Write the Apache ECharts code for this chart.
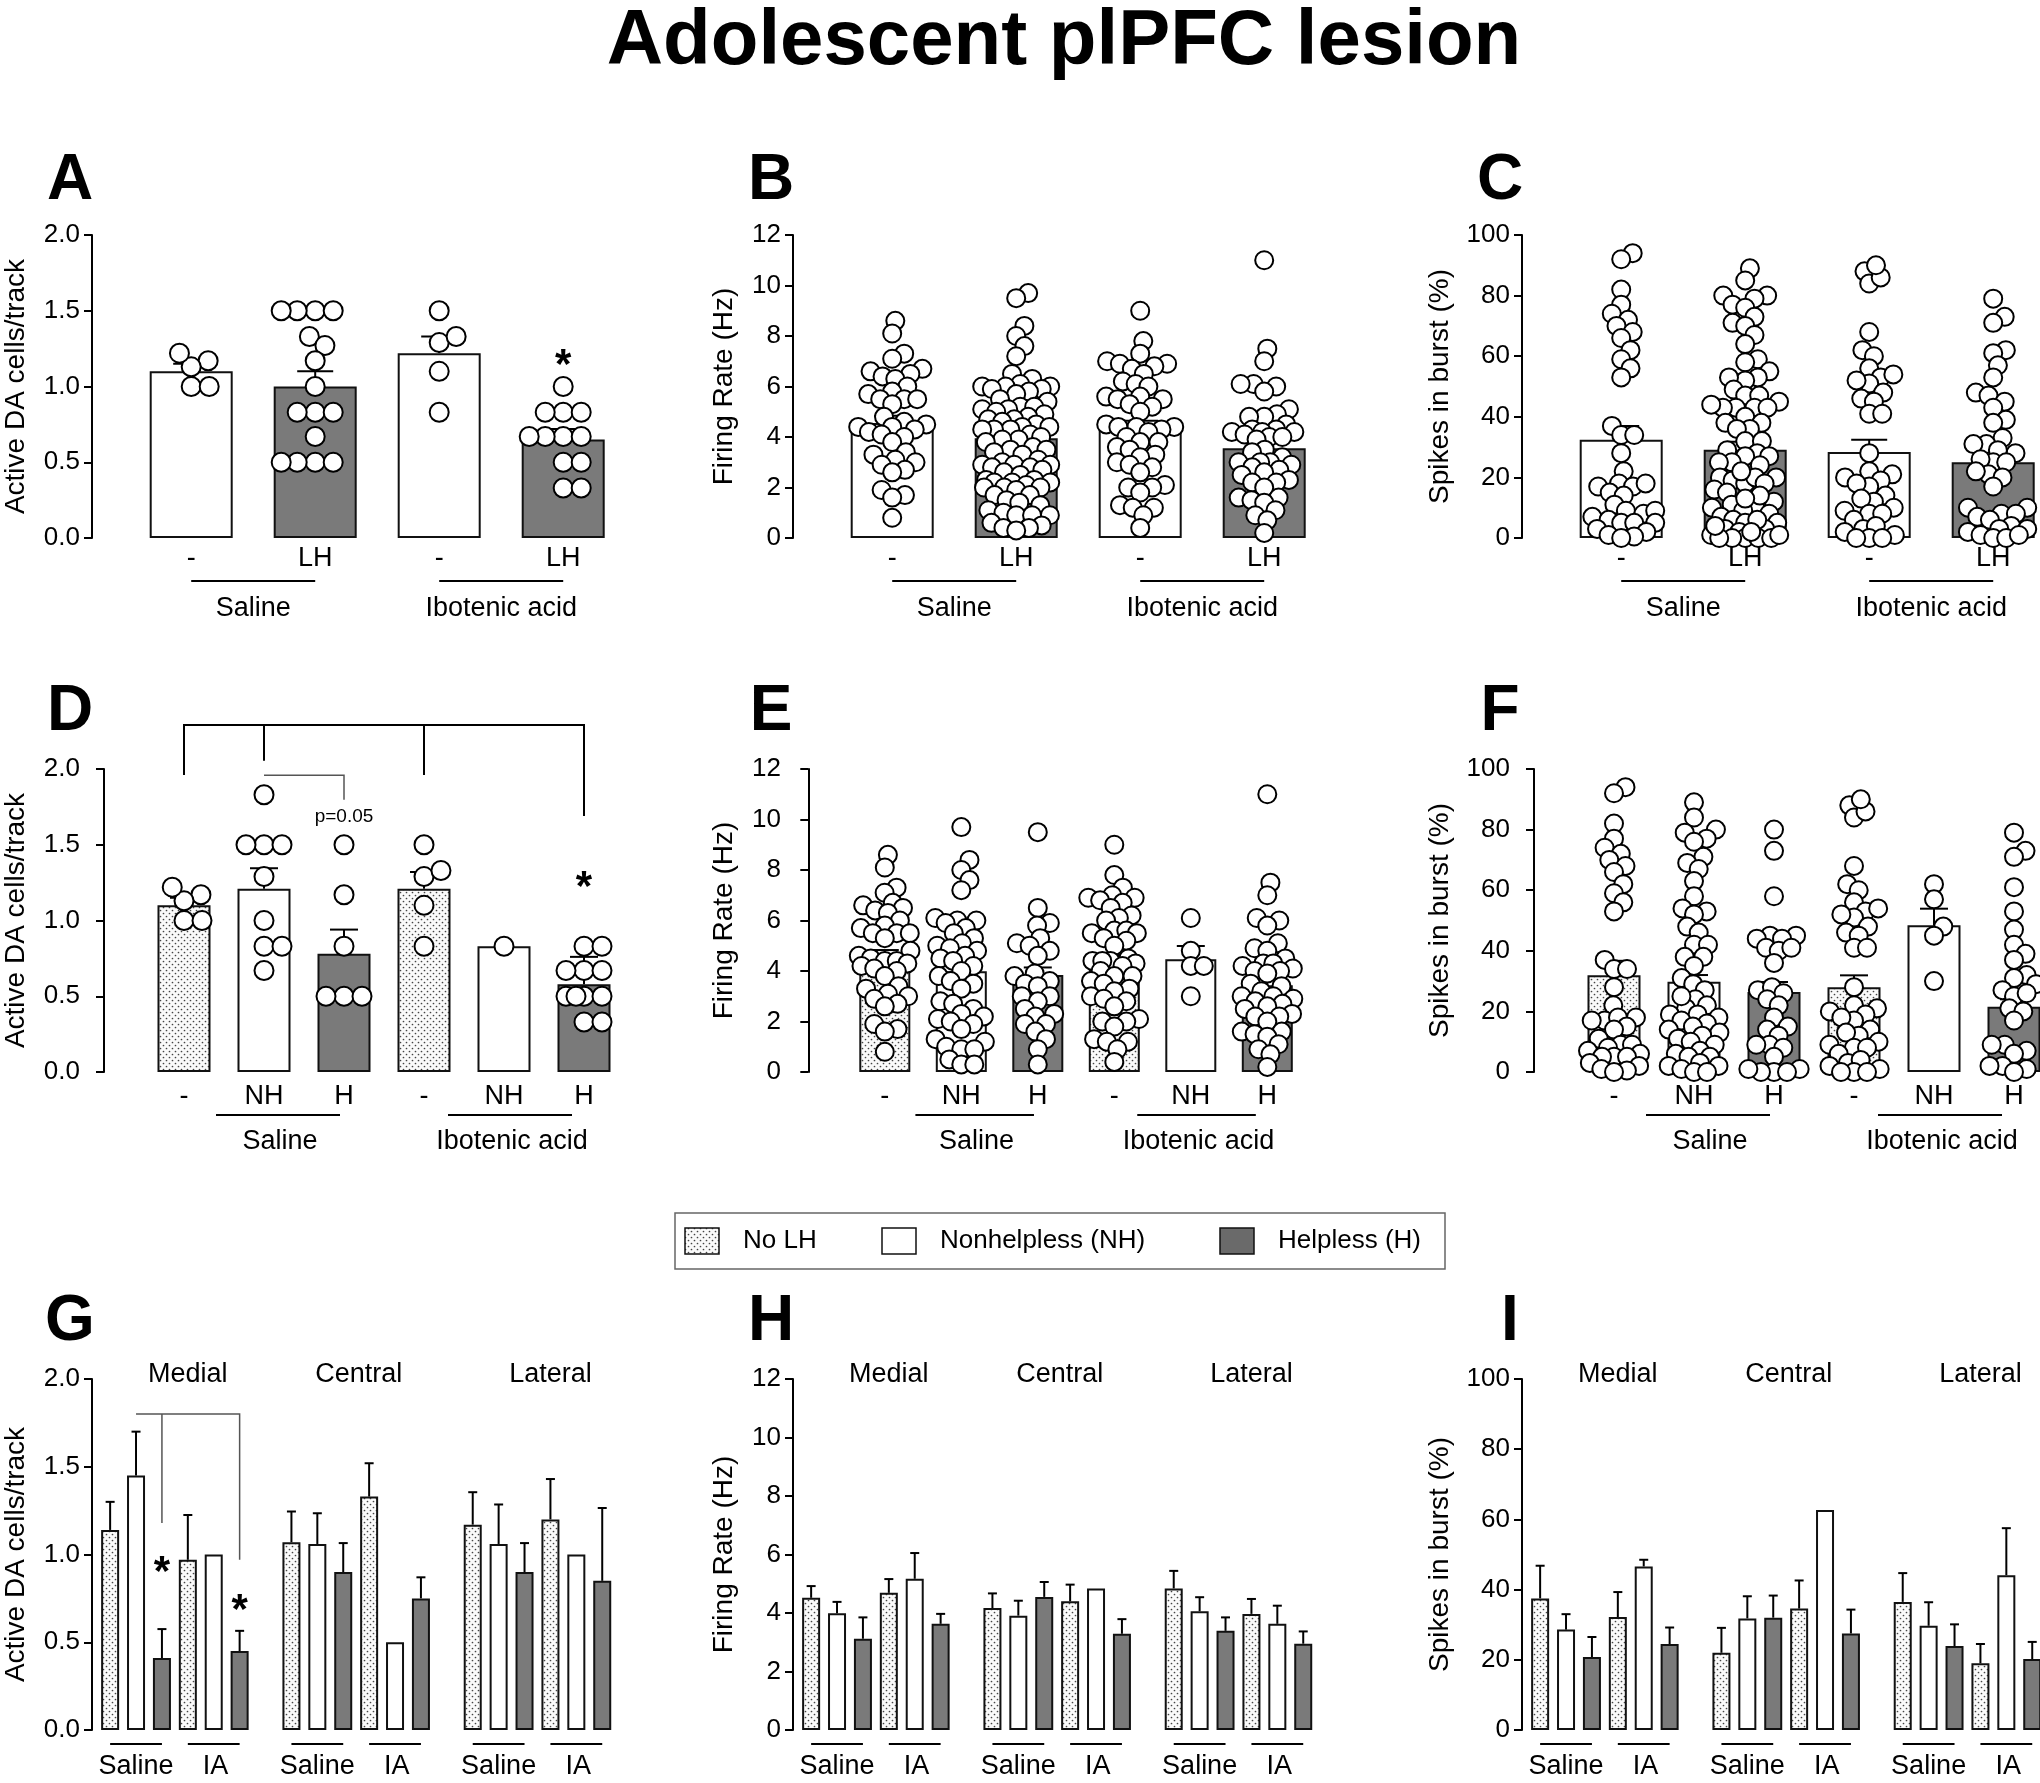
<!DOCTYPE html>
<html>
<head>
<meta charset="utf-8">
<script src="https://cdn.jsdelivr.net/npm/echarts@6/dist/echarts.min.js"></script>
<style>
html, body { margin: 0; padding: 0; background: #fff; }
#chart { width: 2040px; height: 1783px; }
</style>
</head>
<body>
<div id="chart"></div>
<script>
var FONT = '"Liberation Sans", Arial, sans-serif';

// labels
var figTitle = 'Adolescent plPFC lesion';
var letters = ['A', 'B', 'C', 'D', 'E', 'F', 'G', 'H', 'I'];
var yNames = ['Active DA cells/track', 'Firing Rate (Hz)', 'Spikes in burst (%)'];
var rowOneTicks = ['-', 'LH', '-', 'LH'];
var rowTwoTicks = ['-', 'NH', 'H', '-', 'NH', 'H'];
var treatments = ['Saline', 'Ibotenic acid'];
var treatShort = ['Saline', 'IA'];
var regions = ['Medial', 'Central', 'Lateral'];
var legendNames = ['No LH', 'Nonhelpless (NH)', 'Helpless (H)'];
var yMax = [2, 12, 100];
var yStep = [0.5, 2, 20];

// ---- row 1 : bar means and upper end of SEM
var aMeans = [1.10, 1.00, 1.22, 0.65];
var aTops = [1.15, 1.10, 1.33, 0.72];
var bMeans = [4.55, 3.95, 4.35, 3.55];
var bTops = [4.84, 4.15, 4.64, 3.89];
var cMeans = [32.4, 29.1, 28.4, 25.0];
var cTops = [37.0, 31.8, 32.4, 28.4];

// ---- row 2
var dMeans = [1.10, 1.21, 0.78, 1.21, 0.83, 0.58];
var dTops = [1.15, 1.345, 0.94, 1.32, null, 0.76];
var eMeans = [4.52, 3.99, 3.84, 4.33, 4.47, 3.44];
var eTops = [4.83, 4.30, 4.14, 4.63, 4.99, 3.72];
var fMeans = [31.9, 29.8, 26.4, 28.0, 48.4, 21.5];
var fTops = [36.7, 32.0, 29.7, 31.9, 53.9, 24.0];

// ---- row 3 (order: Saline noLH, NH, H, IA noLH, NH, H)
var gMedial = [1.14, 1.45, 0.41, 0.97, 1.00, 0.45];
var gMedialTop = [1.30, 1.70, 0.575, 1.225, null, 0.565];
var gCentral = [1.07, 1.06, 0.90, 1.33, 0.50, 0.75];
var gCentralTop = [1.245, 1.235, 1.065, 1.52, null, 0.87];
var gLateral = [1.17, 1.06, 0.90, 1.20, 1.00, 0.85];
var gLateralTop = [1.355, 1.285, 1.065, 1.43, null, 1.265];
var hMedial = [4.52, 3.99, 3.12, 4.69, 5.17, 3.63];
var hMedialTop = [4.92, 4.38, 3.85, 5.16, 6.05, 3.97];
var hCentral = [4.17, 3.91, 4.55, 4.40, 4.84, 3.29];
var hCentralTop = [4.67, 4.42, 5.06, 4.97, null, 3.79];
var hLateral = [4.84, 4.06, 3.39, 3.97, 3.63, 2.95];
var hLateralTop = [5.44, 4.54, 3.85, 4.48, 4.25, 3.37];
var iMedial = [37.5, 28.6, 20.8, 32.2, 46.6, 24.5];
var iMedialTop = [46.8, 33.0, 26.5, 39.3, 48.5, 29.2];
var iCentral = [22.0, 31.8, 32.0, 34.6, 62.7, 27.5];
var iCentralTop = [29.1, 38.1, 38.3, 42.6, null, 34.3];
var iLateral = [36.5, 29.7, 23.9, 19.0, 44.1, 20.2];
var iLateralTop = [44.7, 36.4, 30.1, 24.5, 57.5, 25.1];

// ---- individual cells, cells/track
var aSalNo = [1.17, 1.13, 1.22, 1.0, 1.0];
var aSalLH = [1.5, 1.5, 1.5, 1.5, 1.33, 1.27, 1.17, 1.0, 0.83, 0.83, 0.83, 0.67, 0.5, 0.5, 0.5, 0.5];
var aIaNo = [1.5, 1.29, 1.33, 1.1, 0.83];
var aIaLH = [1.0, 0.83, 0.83, 0.83, 0.67, 0.67, 0.67, 0.67, 0.5, 0.5, 0.33, 0.33];
var dSalNH = [1.83, 1.5, 1.5, 1.5, 1.29, 1.0, 0.83, 0.83, 0.67];
var dSalH = [1.5, 1.17, 0.83, 0.5, 0.5, 0.5];
var dIaNH = [0.83];
var dIaH = [0.83, 0.83, 0.67, 0.67, 0.67, 0.5, 0.5, 0.5, 0.5, 0.33, 0.33];

// ---- firing rate (Hz)
var bSalNo = [8.6, 8.1, 7.3, 7.1, 6.7, 6.5, 6.6, 6.4, 6.3, 6.0, 5.8, 5.7, 5.5, 5.5, 5.5, 5.3, 4.8, 4.6, 4.5, 4.4, 4.4, 4.3, 4.2, 4.1, 4.0, 3.8, 3.4, 3.3, 3.1, 2.9, 3.0, 2.7, 2.6, 1.9, 1.7, 1.6, 0.8];
var bSalLH = [9.7, 9.5, 8.4, 8.0, 7.6, 7.2, 6.5, 6.3, 6.1, 6.0, 6.0, 6.0, 5.9, 5.9, 5.8, 5.7, 5.5, 5.4, 5.2, 5.2, 5.1, 5.1, 5.0, 4.9, 4.8, 4.7, 4.7, 4.6, 4.5, 4.4, 4.4, 4.3, 4.3, 4.3, 4.1, 4.0, 3.9, 3.9, 3.8, 3.6, 3.5, 3.5, 3.4, 3.3, 3.1, 3.0, 2.9, 2.9, 2.9, 2.8, 2.8, 2.7, 2.6, 2.5, 2.3, 2.3, 2.2, 2.2, 2.2, 2.1, 2.0, 2.0, 2.0, 1.9, 1.7, 1.7, 1.5, 1.4, 1.3, 1.1, 1.0, 0.9, 0.9, 0.9, 0.6, 0.5, 0.4, 0.4, 0.3];
var bIaNo = [9.0, 7.8, 7.3, 7.0, 6.9, 6.9, 6.8, 6.7, 6.5, 6.2, 6.1, 6.0, 5.6, 5.6, 5.5, 5.5, 5.3, 5.2, 5.0, 4.5, 4.4, 4.4, 4.4, 4.3, 4.2, 4.0, 3.8, 3.8, 3.6, 3.5, 3.3, 3.2, 3.0, 2.9, 2.8, 2.6, 2.1, 2.0, 2.0, 1.8, 1.3, 1.2, 1.2, 0.9, 0.4];
var bIaLH = [11.0, 7.5, 7.0, 6.1, 6.1, 6.0, 5.8, 5.1, 4.9, 4.8, 4.8, 4.5, 4.3, 4.3, 4.2, 4.2, 4.2, 4.1, 4.0, 4.0, 3.9, 3.5, 3.4, 3.2, 3.0, 3.0, 3.0, 2.9, 2.8, 2.7, 2.6, 2.5, 2.3, 2.2, 2.2, 2.0, 1.6, 1.6, 1.5, 1.4, 1.1, 0.9, 0.7, 0.2];
var eSalNH = [9.7, 8.4, 8.0, 7.6, 7.2, 6.1, 6.0, 6.0, 5.9, 5.7, 5.5, 5.3, 5.1, 5.0, 4.9, 4.8, 4.6, 4.5, 4.4, 4.2, 4.0, 3.8, 3.6, 3.5, 3.3, 2.8, 2.7, 2.5, 2.3, 2.2, 2.1, 2.0, 1.9, 1.7, 1.3, 1.2, 1.0, 0.9, 0.9, 0.5, 0.3, 0.3];
var eSalH = [9.5, 6.5, 5.9, 5.8, 5.3, 5.1, 5.0, 4.8, 4.6, 3.9, 3.8, 3.6, 3.5, 3.4, 3.0, 3.0, 2.8, 2.5, 2.3, 2.2, 1.9, 1.9, 1.6, 1.3, 0.9, 0.3];
var eIaNH = [6.1, 4.8, 4.2, 4.2, 3.0];
var eIaH = [11.0, 7.5, 7.0, 6.1, 6.0, 5.8, 5.1, 4.9, 4.8, 4.5, 4.3, 4.3, 4.2, 4.1, 4.0, 4.0, 3.9, 3.5, 3.4, 3.2, 3.0, 3.0, 2.9, 2.8, 2.7, 2.6, 2.5, 2.3, 2.2, 2.2, 2.0, 1.6, 1.6, 1.5, 1.4, 1.1, 0.9, 0.7, 0.2];

// ---- spikes in burst (%)
var cSalNo = [94, 92, 82, 77, 74, 72, 70, 68, 66, 62, 59, 56, 53, 37, 34, 34, 28, 22, 18, 17, 18, 17, 15, 14, 11, 9, 8, 9, 7, 6, 5, 5, 5, 3, 2, 1, 0.5, 0];
var cSalLH = [89, 85, 80, 80, 79, 77, 76, 73, 71, 70, 67, 64, 59, 58, 55, 53, 52, 53, 49, 47, 47, 45, 43, 43, 43, 43, 44, 40, 38, 38, 36, 36, 32, 32, 28, 29, 27, 27, 25, 24, 25, 20, 20, 19, 18, 20, 18, 16, 15, 12, 11, 10, 10, 9, 8, 7, 6, 5, 5, 3, 2, 3, 1, 0, 0, 0, 0, 0, 22, 14, 13, 6, 4, 2, 1];
var cIaNo = [88, 84, 86, 90, 68, 62, 60, 56, 53, 54, 51, 52, 48, 46, 45, 41, 41, 28, 22, 21, 20, 19, 17, 18, 14, 12, 13, 10, 9, 8, 8, 6, 3, 4, 2, 1, 0, 0, 0];
var cIaLH = [79, 73, 71, 62, 61, 57, 53, 48, 47, 45, 43, 39, 38, 33, 31, 31, 28, 29, 25, 25, 26, 21, 22, 20, 17, 10, 10, 7, 8, 8, 6, 4, 3, 3, 2, 1, 0, 0, 1];
var fSalNH = [89, 84, 80, 77, 79, 76, 71, 69, 67, 63, 58, 54, 53, 52, 48, 46, 42, 42, 38, 38, 35, 31, 29, 27, 24, 22, 21, 25, 19, 19, 18, 17, 16, 15, 14, 13, 12, 11, 10, 9, 7, 6, 5, 5, 3, 2, 2, 1, 0, 0];
var fSalH = [80, 73, 58, 45, 45, 44, 44, 41, 40, 41, 36, 27, 28, 26, 24, 22, 18, 14, 15, 12, 9, 9, 8, 5, 1, 0, 0, 0, 1];
var fIaNH = [62, 57, 48, 45, 30];
var fIaH = [79, 73, 71, 61, 53, 47, 42, 39, 37, 32, 31, 29, 27, 25, 26, 21, 20, 17, 9, 9, 7, 6, 3, 2, 2, 1, 0];

// ---- layout
var colX = [92, 793, 1522];
var nameGap = [62, 55, 68];
var swarmGap = [18, 13, 13];
var rows = [
  { top: 235, bottom: 538, xMin: 0.2, xMax: 4.35, pxX: 124, barW: 83, cap: 18, spread: 34 },
  { top: 769, bottom: 1072, xMin: -0.15, xMax: 6.3, pxX: 80, barW: 53, cap: 14, spread: 26 },
  { top: 1379, bottom: 1730, xMin: 0.3, xMax: 20.3, pxX: 25.9, barW: 18, cap: 4.5 }
];
var GRAY = '#7a7a7a';

// dotted fill for the "No LH" bars
var dotCanvas = document.createElement('canvas');
dotCanvas.width = 6; dotCanvas.height = 6;
var dctx = dotCanvas.getContext('2d');
dctx.fillStyle = '#fafafa'; dctx.fillRect(0, 0, 6, 6);
dctx.fillStyle = '#444';
dctx.beginPath(); dctx.arc(1.5, 1.5, 0.85, 0, Math.PI * 2); dctx.fill();
dctx.beginPath(); dctx.arc(4.5, 4.5, 0.85, 0, Math.PI * 2); dctx.fill();
var DOTS = { image: dotCanvas, repeat: 'repeat' };

function fillOf(kind) {
  if (kind == 'dot') return DOTS;
  if (kind == 'gray') return GRAY;
  return '#fff';
}

// simple beeswarm: offsets in px, converted back to axis units
function swarm(values, xc, pxX, pxY, diam, spread) {
  var pts = values.map(function (v) { return { v: v, y: v * pxY, x: 0 }; });
  var order = pts.slice().sort(function (a, b) { return a.y - b.y; });
  var placed = [];
  order.forEach(function (p) {
    var cands = [0];
    placed.forEach(function (q) {
      var dy = p.y - q.y;
      if (Math.abs(dy) < diam) {
        var dx = Math.sqrt(diam * diam - dy * dy);
        cands.push(q.x + dx, q.x - dx);
      }
    });
    cands.sort(function (a, b) { return Math.abs(a) - Math.abs(b); });
    var best = null;
    for (var i = 0; i < cands.length; i++) {
      var c = cands[i];
      if (Math.abs(c) > spread) continue;
      var ok = placed.every(function (q) {
        var dx = c - q.x, dy = p.y - q.y;
        return dx * dx + dy * dy >= diam * diam - 0.5;
      });
      if (ok) { best = c; break; }
    }
    if (best === null) {
      var bestD = -1;
      for (var s = -spread; s <= spread; s += 2) {
        var md = 1e9;
        placed.forEach(function (q) {
          var dx = s - q.x, dy = p.y - q.y;
          md = Math.min(md, dx * dx + dy * dy);
        });
        if (md > bestD + 0.01 || (Math.abs(md - bestD) < 0.01 && Math.abs(s) < Math.abs(best))) { bestD = md; best = s; }
      }
    }
    p.x = best;
    placed.push(p);
  });
  return pts.map(function (p) { return [xc + p.x / pxX, p.v]; });
}

function textSeries(gi, items) {
  return {
    type: 'custom', xAxisIndex: gi, yAxisIndex: gi, clip: false, silent: true, z: 10,
    data: items.map(function (it) { return [it.x, it.y]; }),
    renderItem: function (params, api) {
      var it = items[params.dataIndex];
      var p = api.coord([api.value(0), api.value(1)]);
      return {
        type: 'text', x: p[0] + (it.dx || 0), y: p[1] + (it.dy || 0),
        style: {
          text: it.text, fill: '#000', font: it.font,
          align: 'center', verticalAlign: 'middle', textAlign: 'center', textVerticalAlign: 'middle'
        }
      };
    }
  };
}

function lineSeries(gi, lines) {
  return {
    type: 'custom', xAxisIndex: gi, yAxisIndex: gi, clip: false, silent: true, z: 9,
    data: lines.map(function (l) { return l.pts[0]; }),
    renderItem: function (params, api) {
      var l = lines[params.dataIndex];
      var pts = l.pts.map(function (pt) {
        var c = api.coord(pt);
        return [c[0], c[1] + (l.dy || 0)];
      });
      return {
        type: 'polyline', shape: { points: pts },
        style: { stroke: l.color || '#000', lineWidth: l.width || 2, fill: null }
      };
    }
  };
}

function errSeries(gi, xs, means, tops, cap) {
  var data = [];
  xs.forEach(function (x, i) { if (tops[i] != null) data.push([x, means[i], tops[i]]); });
  return {
    type: 'custom', xAxisIndex: gi, yAxisIndex: gi, clip: false, silent: true, z: 3,
    data: data,
    renderItem: function (params, api) {
      var b = api.coord([api.value(0), api.value(1)]);
      var t = api.coord([api.value(0), api.value(2)]);
      return {
        type: 'group', children: [
          { type: 'line', shape: { x1: b[0], y1: b[1], x2: t[0], y2: t[1] }, style: { stroke: '#000', lineWidth: 2 } },
          { type: 'line', shape: { x1: t[0] - cap, y1: t[1], x2: t[0] + cap, y2: t[1] }, style: { stroke: '#000', lineWidth: 2 } }
        ]
      };
    }
  };
}

var grids = [], xAxes = [], yAxes = [], series = [];
var labelFont = '27px ' + FONT;

function addPanel(r, c, xs, kinds, means, tops, groups, over) {
  var gi = grids.length;
  var row = Object.assign({}, rows[r], over || {});
  var h = row.bottom - row.top;
  grids.push({ left: colX[c], top: row.top, width: (row.xMax - row.xMin) * row.pxX, height: h });
  xAxes.push({ type: 'value', gridIndex: gi, min: row.xMin, max: row.xMax, show: false });
  yAxes.push({
    type: 'value', gridIndex: gi, min: 0, max: yMax[c], interval: yStep[c],
    name: yNames[c], nameLocation: 'middle', nameGap: nameGap[c],
    nameTextStyle: { fontSize: 28, fontFamily: FONT, color: '#000' },
    axisLine: { show: true, lineStyle: { color: '#000', width: 2 } },
    axisTick: { show: true, length: 8, lineStyle: { color: '#000', width: 2 } },
    axisLabel: {
      fontSize: 26, fontFamily: FONT, color: '#000', margin: 12,
      formatter: function (v) { return c == 0 ? v.toFixed(1) : String(v); }
    },
    splitLine: { show: false }
  });
  series.push({
    type: 'bar', xAxisIndex: gi, yAxisIndex: gi, barWidth: row.barW, z: 2, silent: true,
    data: xs.map(function (x, i) {
      return { value: [x, means[i]], itemStyle: { color: fillOf(kinds[i]), borderColor: '#111', borderWidth: 2 } };
    })
  });
  series.push(errSeries(gi, xs, means, tops, row.cap));
  if (groups) {
    var pxY = h / yMax[c];
    var pts = [];
    groups.forEach(function (g, i) {
      pts = pts.concat(swarm(g, xs[i], row.pxX, pxY, swarmGap[c], row.spread));
    });
    series.push({
      type: 'scatter', xAxisIndex: gi, yAxisIndex: gi, z: 4, silent: true,
      symbol: 'circle', symbolSize: c == 0 ? 19 : 18, data: pts,
      itemStyle: { color: '#fff', borderColor: '#000', borderWidth: 2, opacity: 1 }
    });
  }
  return gi;
}

// row 1
var r1x = [1, 2, 3, 4];
var r1kinds = ['white', 'gray', 'white', 'gray'];
var r1 = [
  addPanel(0, 0, r1x, r1kinds, aMeans, aTops, [aSalNo, aSalLH, aIaNo, aIaLH]),
  addPanel(0, 1, r1x, r1kinds, bMeans, bTops, [bSalNo, bSalLH, bIaNo, bIaLH]),
  addPanel(0, 2, r1x, r1kinds, cMeans, cTops, [cSalNo, cSalLH, cIaNo, cIaLH])
];
r1.forEach(function (gi) {
  var items = r1x.map(function (x, i) { return { x: x, y: 0, dy: 21, text: rowOneTicks[i], font: labelFont }; });
  items.push({ x: 1.5, y: 0, dy: 71, text: treatments[0], font: labelFont });
  items.push({ x: 3.5, y: 0, dy: 71, text: treatments[1], font: labelFont });
  series.push(textSeries(gi, items));
  series.push(lineSeries(gi, [{ pts: [[1, 0], [2, 0]], dy: 43 }, { pts: [[3, 0], [4, 0]], dy: 43 }]));
});
series.push(textSeries(r1[0], [{ x: 4, y: 1.2, dy: 10, text: '*', font: 'bold 42px ' + FONT }]));

// row 2
var r2x = [1, 2, 3, 4, 5, 6];
var r2kinds = ['dot', 'white', 'gray', 'dot', 'white', 'gray'];
var r2 = [
  addPanel(1, 0, r2x, r2kinds, dMeans, dTops, [aSalNo, dSalNH, dSalH, aIaNo, dIaNH, dIaH]),
  addPanel(1, 1, r2x, r2kinds, eMeans, eTops, [bSalNo, eSalNH, eSalH, bIaNo, eIaNH, eIaH],
    { pxX: 76.5, xMin: -0.2, xMax: 6.5, barW: 51 }),
  addPanel(1, 2, r2x, r2kinds, fMeans, fTops, [cSalNo, fSalNH, fSalH, cIaNo, fIaNH, fIaH])
];
r2.forEach(function (gi) {
  var items = r2x.map(function (x, i) { return { x: x, y: 0, dy: 25, text: rowTwoTicks[i], font: labelFont }; });
  items.push({ x: 2.2, y: 0, dy: 70, text: treatments[0], font: labelFont });
  items.push({ x: 5.1, y: 0, dy: 70, text: treatments[1], font: labelFont });
  series.push(textSeries(gi, items));
  series.push(lineSeries(gi, [{ pts: [[1.4, 0], [2.95, 0]], dy: 43 }, { pts: [[4.3, 0], [5.85, 0]], dy: 43 }]));
});
series.push(lineSeries(r2[0], [
  { pts: [[1, 1.96], [1, 2.29], [6, 2.29], [6, 1.69]] },
  { pts: [[2, 2.29], [2, 2.055]] },
  { pts: [[4, 2.29], [4, 1.96]] },
  { pts: [[2, 1.958], [3, 1.958], [3, 1.797]], color: '#555', width: 1.5 }
]));
series.push(textSeries(r2[0], [
  { x: 3, y: 1.687, text: 'p=0.05', font: '19px ' + FONT },
  { x: 6, y: 1.28, dy: 10, text: '*', font: 'bold 42px ' + FONT }
]));

// row 3
var r3x = [1, 2, 3, 4, 5, 6, 8, 9, 10, 11, 12, 13, 15, 16, 17, 18, 19, 20];
var r3kinds = r2kinds.concat(r2kinds, r2kinds);
var regionX = [4.0, 10.6, 18.0];
var regionStart = [1, 8, 15];
var r3 = [
  addPanel(2, 0, r3x, r3kinds, gMedial.concat(gCentral, gLateral), gMedialTop.concat(gCentralTop, gLateralTop)),
  addPanel(2, 1, r3x, r3kinds, hMedial.concat(hCentral, hLateral), hMedialTop.concat(hCentralTop, hLateralTop)),
  addPanel(2, 2, r3x, r3kinds, iMedial.concat(iCentral, iLateral), iMedialTop.concat(iCentralTop, iLateralTop))
];
r3.forEach(function (gi, c) {
  var items = [], lines = [];
  regionStart.forEach(function (s, k) {
    items.push({ x: regionX[k], y: yMax[c], dy: -4, text: regions[k], font: labelFont });
    items.push({ x: s + 1, y: 0, dy: 37, text: treatShort[0], font: labelFont });
    items.push({ x: s + 4.07, y: 0, dy: 37, text: treatShort[1], font: labelFont });
    lines.push({ pts: [[s, 0], [s + 2, 0]], dy: 14 });
    lines.push({ pts: [[s + 3, 0], [s + 5, 0]], dy: 14 });
  });
  series.push(textSeries(gi, items));
  series.push(lineSeries(gi, lines));
});
series.push(lineSeries(r3[0], [
  { pts: [[2, 1.8], [6, 1.8], [6, 0.97]], color: '#555', width: 1.5 },
  { pts: [[3, 1.8], [3, 1.18]], color: '#555', width: 1.5 }
]));
series.push(textSeries(r3[0], [
  { x: 3, y: 0.95, dy: 10, text: '*', font: 'bold 42px ' + FONT },
  { x: 6, y: 0.73, dy: 10, text: '*', font: 'bold 42px ' + FONT }
]));

// title, panel letters, legend
var graphics = [{
  type: 'text', x: 1064, y: 42,
  style: { text: figTitle, font: 'bold 78px ' + FONT, fill: '#000', textAlign: 'center', textVerticalAlign: 'middle', align: 'center', verticalAlign: 'middle' }
}];
var letterY = [181, 712, 1322];
letters.forEach(function (l, i) {
  var c = i % 3, r = Math.floor(i / 3);
  graphics.push({
    type: 'text', x: colX[c] - (l == 'I' ? 12 : 22), y: letterY[r],
    style: { text: l, font: 'bold 64px ' + FONT, fill: '#000', textAlign: 'center', textVerticalAlign: 'middle', align: 'center', verticalAlign: 'middle' }
  });
});
var legX = 675, legY = 1213;
var swatchX = [685, 882, 1220];
var legFill = [DOTS, '#fff', '#6a6a6a'];
graphics.push({ type: 'rect', shape: { x: legX, y: legY, width: 770, height: 56 }, style: { fill: '#fff', stroke: '#666', lineWidth: 1.5 } });
legendNames.forEach(function (n, i) {
  graphics.push({ type: 'rect', shape: { x: swatchX[i], y: legY + 15, width: 34, height: 26 }, style: { fill: legFill[i], stroke: '#111', lineWidth: 1.5 } });
  graphics.push({
    type: 'text', x: swatchX[i] + 58, y: legY + 28,
    style: { text: n, font: '26px ' + FONT, fill: '#000', textAlign: 'left', textVerticalAlign: 'middle', align: 'left', verticalAlign: 'middle' }
  });
});

var chart = echarts.init(document.getElementById('chart'));
chart.setOption({
  animation: false,
  backgroundColor: '#fff',
  grid: grids,
  xAxis: xAxes,
  yAxis: yAxes,
  series: series,
  graphic: graphics
});
</script>
</body>
</html>
